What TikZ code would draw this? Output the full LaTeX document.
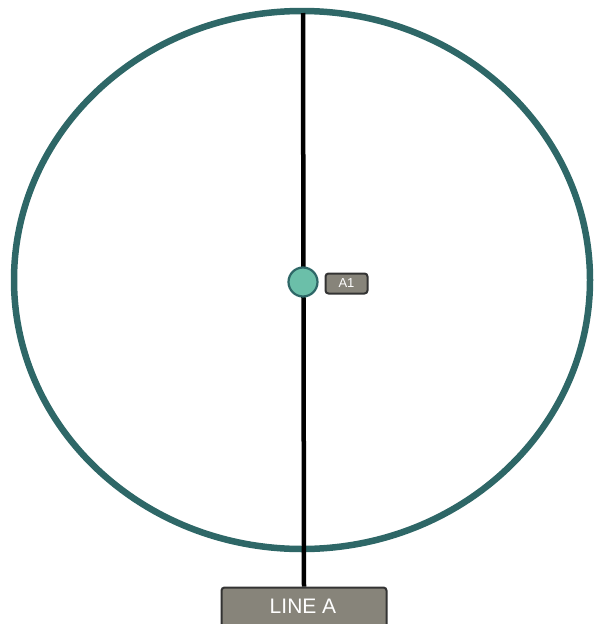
\documentclass[tikz,border=0pt]{standalone}
\usepackage{fontspec}
\setmainfont{Liberation Sans}
\definecolor{ringc}{HTML}{2E6767}
\definecolor{dotc}{HTML}{6BBFA9}
\definecolor{tagfill}{HTML}{87847A}
\definecolor{tagdraw}{HTML}{333333}
\begin{document}
\begin{tikzpicture}[x=1pt,y=-1pt,
  tagbox/.style={draw=tagdraw,fill=tagfill,rounded corners=3pt,line width=2pt,text=white,inner sep=0pt,anchor=north west},
]
\useasboundingbox (0,0) rectangle (595,624);
\coordinate (top) at (303,13);
\draw[ringc,line width=6.5pt] (302,280) ellipse[x radius=288pt,y radius=269pt];
\node[tagbox,minimum width=165pt,minimum height=44pt] (lineA) at (220.5,586.5) {};
\node[text=white,font=\fontsize{21}{21}\selectfont] (lineAtext) at (303,606) {LINE A};
\draw[line width=4.5pt] (top) -- (lineA.north);
\node[circle,draw=ringc,fill=dotc,line width=2.2pt,minimum size=29pt,inner sep=0pt] (a1dot) at (303,282) {};
\node[tagbox,minimum width=42pt,minimum height=20pt,font=\fontsize{13}{13}\selectfont] (a1tag) at (324.5,272.5) {A1};
\end{tikzpicture}
\end{document}
